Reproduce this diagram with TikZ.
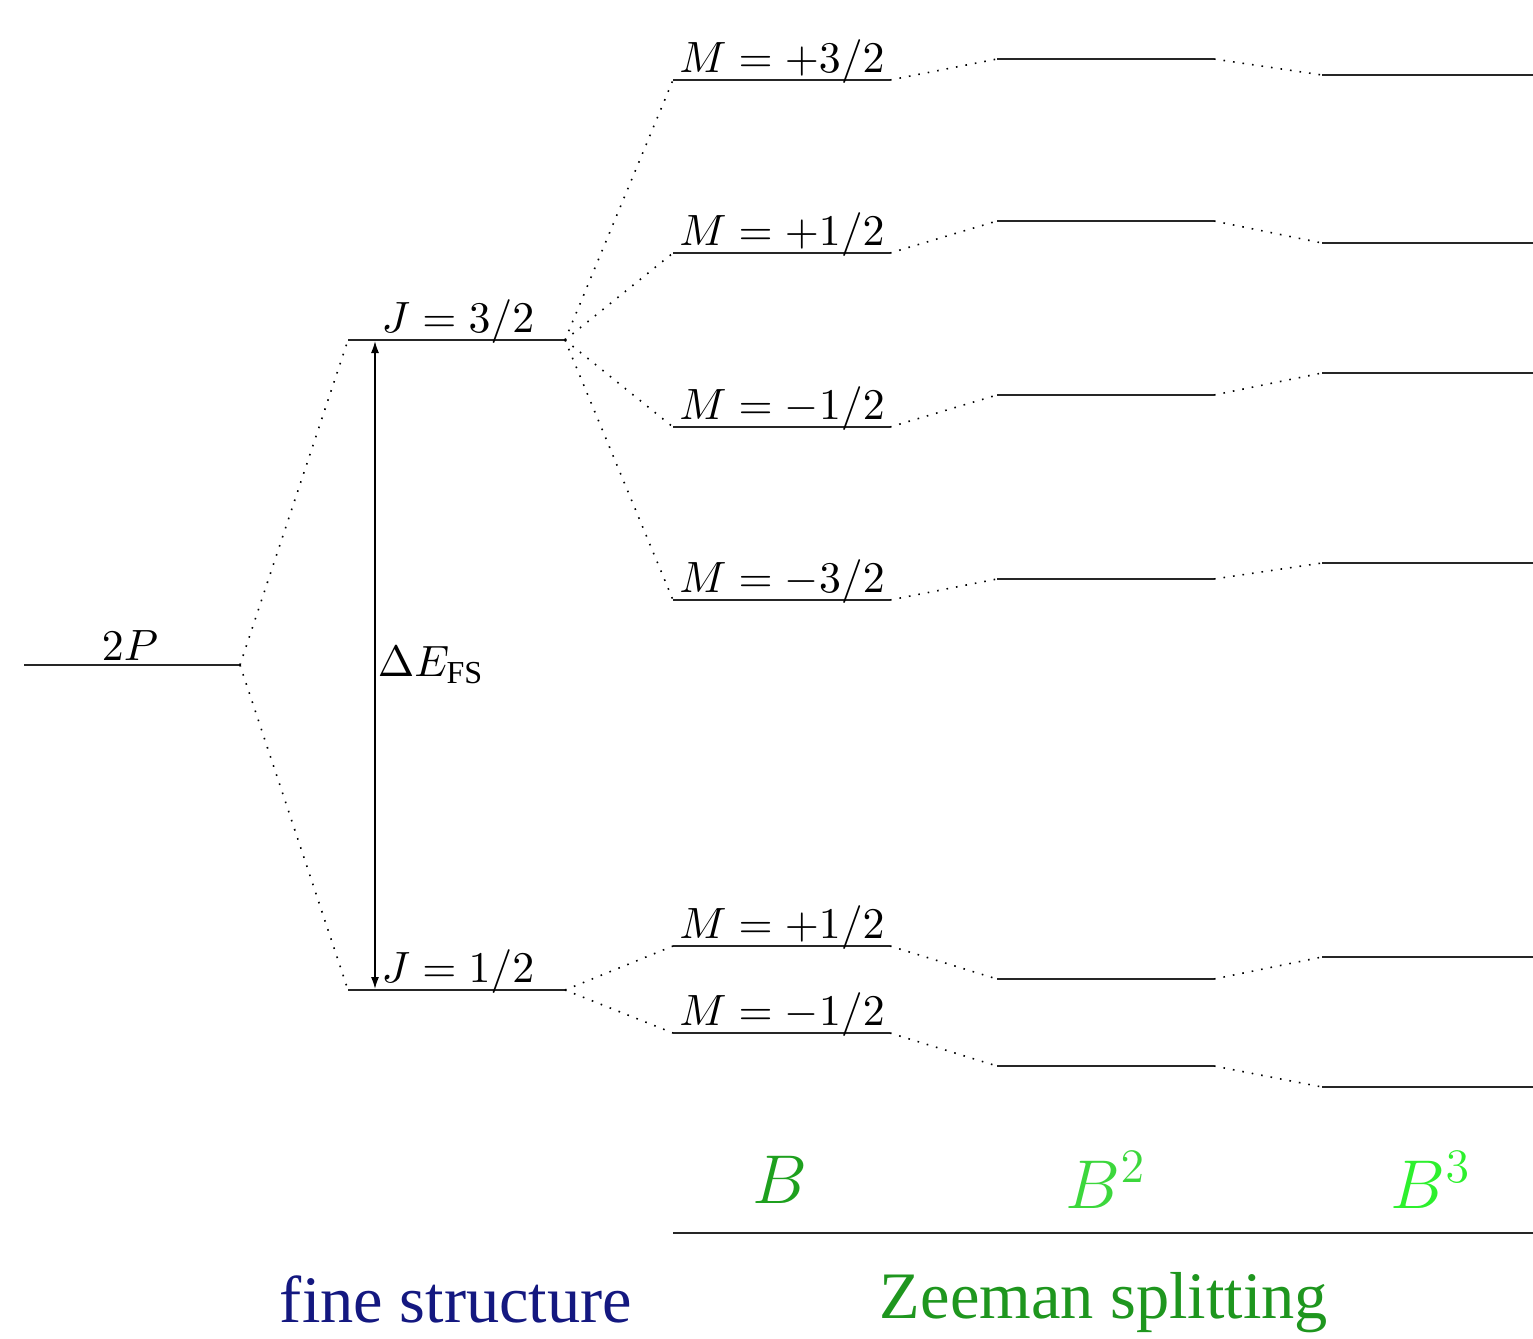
\documentclass[tikz,border=0pt,11pt]{standalone}
\usepackage{amsmath}
\usepackage{fontspec}
\setmainfont{Liberation Serif}
\usetikzlibrary{arrows.meta}
\definecolor{fscol}{RGB}{20,24,128}
\definecolor{zscol}{RGB}{30,150,30}
\definecolor{bone}{RGB}{30,160,30}
\definecolor{btwo}{RGB}{60,215,60}
\definecolor{bthree}{RGB}{45,240,45}
\newcommand{\mylevel}[4]{%
  \coordinate (#1-l) at (#2,#4);
  \coordinate (#1-r) at (#3,#4);
  \draw[levelline] (#1-l) -- (#1-r);}
\begin{document}
\begin{tikzpicture}[x=0.25pt,y=-0.25pt,
  levelline/.style={line width=0.55pt, draw=black!85},
  conn/.style={dotted, line width=0.4pt},
  lab/.style={anchor=base, inner sep=0pt},
  blab/.style={inner sep=0pt, font=\LARGE},
  bigtext/.style={anchor=base, inner sep=0pt, font=\fontsize{16.6}{20}\selectfont}]
\useasboundingbox (0,0) rectangle (1533,1339);
% 2P
\mylevel{p}{24}{240}{665}
\node[lab] (lab-p) at (130,660) {$2P$};
% fine structure
\mylevel{j32}{348}{565}{340}
\mylevel{j12}{348}{565}{990}
\node[lab] (lab-j32) at (458,332) {$J = 3/2$};
\node[lab] (lab-j12) at (458,982) {$J = 1/2$};
\draw[conn] (p-r) -- (j32-l);
\draw[conn] (p-r) -- (j12-l);
\coordinate (arr-top) at (375,341);
\coordinate (arr-bot) at (375,989);
\draw[{Latex[length=3pt,width=2pt]}-{Latex[length=3pt,width=2pt]}, line width=0.4pt] (arr-top) -- (arr-bot);
\node[anchor=west, inner sep=0pt] (lab-dfs) at (377,665) {$\Delta E_{\text{FS}}$};
% Zeeman column 1 (B)
\mylevel{a1}{673}{890}{80}
\mylevel{a2}{673}{890}{253}
\mylevel{a3}{673}{890}{427}
\mylevel{a4}{673}{890}{600}
\mylevel{a5}{673}{890}{946}
\mylevel{a6}{673}{890}{1033}
\node[lab] (lab-a1) at (782,72) {$M = +3/2$};
\node[lab] (lab-a2) at (782,245) {$M = +1/2$};
\node[lab] (lab-a3) at (782,419) {$M = -1/2$};
\node[lab] (lab-a4) at (782,592) {$M = -3/2$};
\node[lab] (lab-a5) at (782,938) {$M = +1/2$};
\node[lab] (lab-a6) at (782,1025) {$M = -1/2$};
\foreach \i in {1,2,3,4} {\draw[conn] (j32-r) -- (a\i-l);}
\foreach \i in {5,6} {\draw[conn] (j12-r) -- (a\i-l);}
% column 2 (B^2)
\mylevel{b1}{997}{1214}{59}
\mylevel{b2}{997}{1214}{221}
\mylevel{b3}{997}{1214}{395}
\mylevel{b4}{997}{1214}{579}
\mylevel{b5}{997}{1214}{979}
\mylevel{b6}{997}{1214}{1066}
% column 3 (B^3)
\mylevel{c1}{1322}{1533}{75}
\mylevel{c2}{1322}{1533}{243}
\mylevel{c3}{1322}{1533}{373}
\mylevel{c4}{1322}{1533}{563}
\mylevel{c5}{1322}{1533}{957}
\mylevel{c6}{1322}{1533}{1087}
\foreach \i in {1,...,6} {
  \draw[conn] (a\i-r) -- (b\i-l);
  \draw[conn] (b\i-r) -- (c\i-l);
}
% field axis
\coordinate (ax-l) at (673,1233);
\coordinate (ax-r) at (1533,1233);
\draw[levelline] (ax-l) -- (ax-r);
\node[blab, text=bone] (lab-b1) at (780,1180) {$B$};
\node[blab, text=btwo] (lab-b2) at (1106,1180) {$B^2$};
\node[blab, text=bthree] (lab-b3) at (1431,1180) {$B^3$};
% bottom captions
\node[bigtext, text=fscol] (lab-fs) at (456,1322) {fine structure};
\node[bigtext, text=zscol] (lab-zs) at (1104,1318) {Zeeman splitting};
\end{tikzpicture}
\end{document}
